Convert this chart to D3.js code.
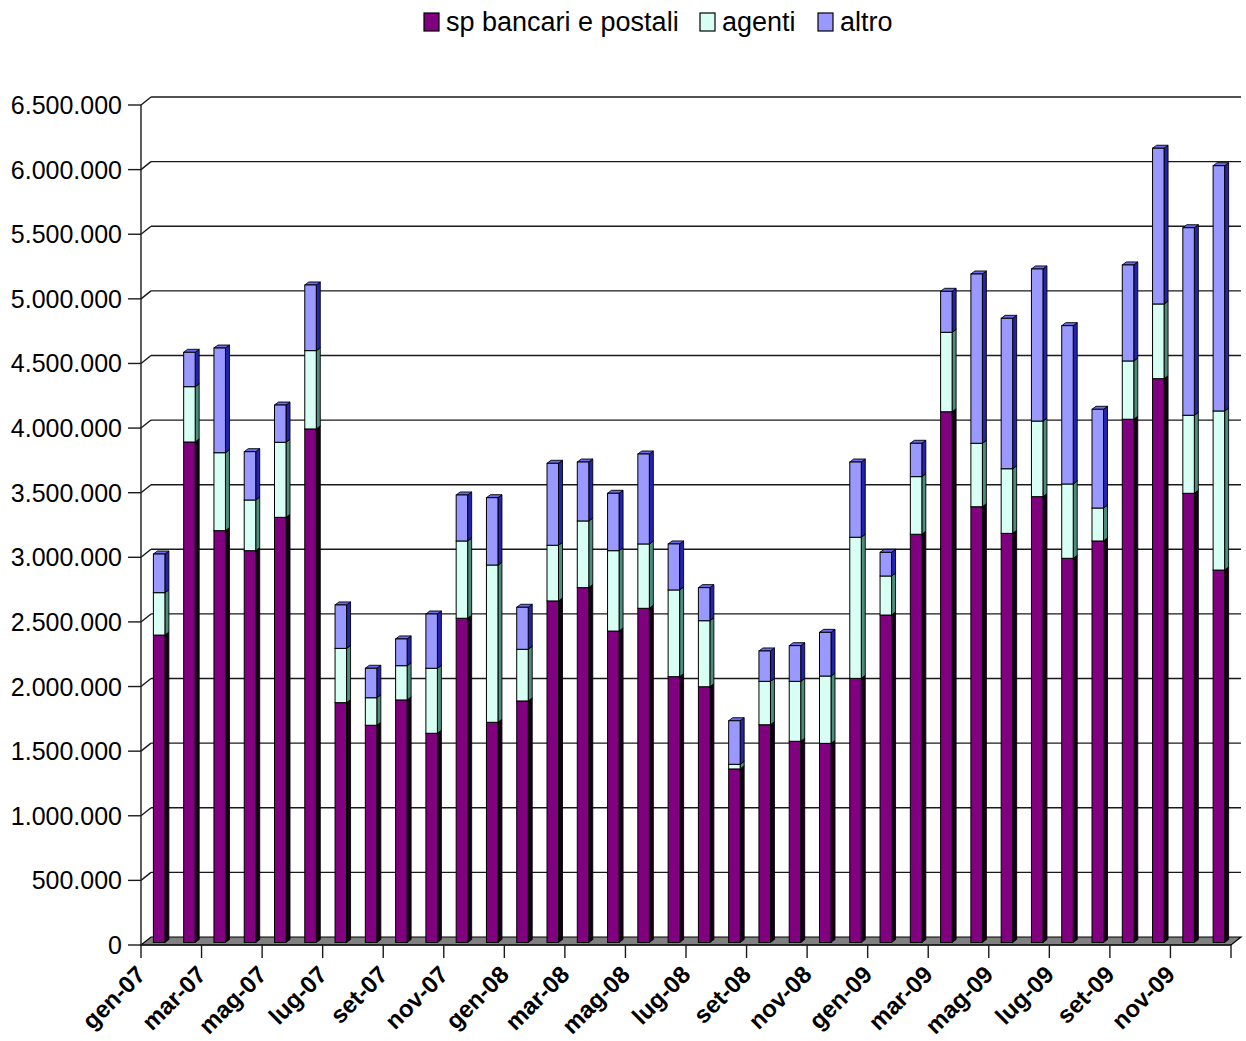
<!DOCTYPE html>
<html>
<head>
<meta charset="utf-8">
<script src="https://cdn.jsdelivr.net/npm/d3@7"></script>
<style>
  body { margin: 0; background: #fff; }
  svg { display: block; }
  text { font-family: "Liberation Sans", Arial, sans-serif; fill: #000; }
</style>
</head>
<body>
<svg id="chart" width="1246" height="1041"></svg>
<script>
// Monthly volumes by channel, Jan 2007 – Dec 2009
const months = [
  "gen-07","feb-07","mar-07","apr-07","mag-07","giu-07","lug-07","ago-07","set-07","ott-07","nov-07","dic-07",
  "gen-08","feb-08","mar-08","apr-08","mag-08","giu-08","lug-08","ago-08","set-08","ott-08","nov-08","dic-08",
  "gen-09","feb-09","mar-09","apr-09","mag-09","giu-09","lug-09","ago-09","set-09","ott-09","nov-09","dic-09"
];
const spBancariPostali = [
  2379000, 3873000, 3187000, 3032000, 3290000, 3974000, 1856000, 1681000, 1877000, 1619000, 2509000, 1704000,
  1869000, 2643000, 2746000, 2410000, 2586000, 2057000, 1979000, 1343000, 1685000, 1557000, 1541000, 2044000,
  2534000, 3159000, 4107000, 3372000, 3166000, 3450000, 2973000, 3107000, 4049000, 4363000, 3476000, 2882000
];
const agenti = [
  328000, 428000, 603000, 392000, 581000, 606000, 420000, 213000, 265000, 503000, 598000, 1217000,
  400000, 431000, 516000, 622000, 498000, 671000, 511000, 36000, 336000, 464000, 521000, 1092000,
  302000, 446000, 615000, 491000, 500000, 585000, 575000, 255000, 451000, 578000, 604000, 1231000
];
const altro = [
  299000, 266000, 810000, 374000, 288000, 508000, 336000, 228000, 207000, 420000, 356000, 521000,
  325000, 634000, 456000, 444000, 696000, 356000, 256000, 337000, 235000, 276000, 338000, 582000,
  183000, 258000, 317000, 1310000, 1164000, 1177000, 1225000, 764000, 743000, 1205000, 1451000, 1898000
];
const seriesNames = ["sp bancari e postali", "agenti", "altro"];
const yTicks = d3.range(0, 6500001, 500000);
const xTickLabels = months.filter((d, i) => i % 2 === 0);

// face colours per series: front, side, top
const palette = [
  { front: "#800080", side: "#140014", top: "#5a005a" },
  { front: "#d8fff3", side: "#4d8c7a", top: "#a8e8d8" },
  { front: "#9999ff", side: "#2323b0", top: "#6b6bf2" }
];

const svg = d3.select("#chart");

// plot frame (front plane) and depth of the 3D box
const plotLeft = 141, plotRight = 1231, plotBottom = 945, plotTop = 105;
const wallDx = 10, wallDy = -8;
const barOffX = 3, barOffY = -2.5;      // bar front face sits slightly into the box
const barDx = 4, barDy = -3;            // bar depth

const y = d3.scaleLinear().domain([0, 6500000]).range([plotBottom, plotTop]);
const x = d3.scaleBand().domain(months).range([plotLeft, plotRight]).padding(0);
const barW = 11.5;

const itLocale = d3.formatLocale({ decimal: ",", thousands: ".", grouping: [3], currency: ["€", ""] });
const fmt = itLocale.format(",");

// back wall gridlines with their diagonal joins and front tick marks
const grid = svg.append("g");
yTicks.forEach(v => {
  const yf = y(v);
  if (v > 0) {
    grid.append("line")
      .attr("x1", plotLeft + wallDx).attr("x2", plotRight + wallDx)
      .attr("y1", yf + wallDy).attr("y2", yf + wallDy)
      .attr("stroke", "#1a1a1a").attr("stroke-width", 1.4);
    grid.append("line")
      .attr("x1", plotLeft).attr("y1", yf)
      .attr("x2", plotLeft + wallDx).attr("y2", yf + wallDy)
      .attr("stroke", "#1a1a1a").attr("stroke-width", 1.4);
  }
  grid.append("line")
    .attr("x1", plotLeft - 13).attr("x2", plotLeft)
    .attr("y1", yf).attr("y2", yf)
    .attr("stroke", "#1a1a1a").attr("stroke-width", 1.4);
  grid.append("text")
    .attr("x", plotLeft - 19).attr("y", yf)
    .attr("text-anchor", "end").attr("dominant-baseline", "central")
    .style("font-size", "25px")
    .text(fmt(v));
});

// floor
svg.append("polygon")
  .attr("points", [
    [plotLeft, plotBottom], [plotRight, plotBottom],
    [plotRight + wallDx, plotBottom + wallDy], [plotLeft + wallDx, plotBottom + wallDy]
  ].map(p => p.join(",")).join(" "))
  .attr("fill", "#808080").attr("stroke", "#000").attr("stroke-width", 1.2);

// axis lines
svg.append("line").attr("x1", plotLeft).attr("x2", plotLeft).attr("y1", plotTop).attr("y2", plotBottom)
  .attr("stroke", "#1a1a1a").attr("stroke-width", 1.4);
svg.append("line").attr("x1", plotLeft).attr("x2", plotRight).attr("y1", plotBottom).attr("y2", plotBottom)
  .attr("stroke", "#1a1a1a").attr("stroke-width", 1.4);

// x ticks every two months plus the closing one
const tickXs = xTickLabels.map(m => x(m)).concat([plotRight]);
tickXs.forEach(tx => {
  svg.append("line").attr("x1", tx).attr("x2", tx).attr("y1", plotBottom).attr("y2", plotBottom + 13)
    .attr("stroke", "#1a1a1a").attr("stroke-width", 1.4);
});

// stacked 3D columns
const stackData = months.map((m, i) => ({ month: m, s0: spBancariPostali[i], s1: agenti[i], s2: altro[i] }));
const stacked = d3.stack().keys(["s0", "s1", "s2"])(stackData);

const bars = svg.append("g");
months.forEach((m, i) => {
  const x0 = x(m) + (x.bandwidth() - barW) / 2 + barOffX;
  const x1 = x0 + barW;
  const g = bars.append("g");
  stacked.forEach((layer, k) => {
    const [v0, v1] = layer[i];
    if (v1 - v0 <= 0) return;
    const yTop = y(v1) + barOffY, yBot = y(v0) + barOffY;
    const c = palette[k];
    // side face
    g.append("polygon")
      .attr("points", [[x1, yBot], [x1 + barDx, yBot + barDy], [x1 + barDx, yTop + barDy], [x1, yTop]]
        .map(p => p.join(",")).join(" "))
      .attr("fill", c.side).attr("stroke", "#000").attr("stroke-width", 0.9).attr("stroke-linejoin", "round");
    // top face
    g.append("polygon")
      .attr("points", [[x0, yTop], [x1, yTop], [x1 + barDx, yTop + barDy], [x0 + barDx, yTop + barDy]]
        .map(p => p.join(",")).join(" "))
      .attr("fill", c.top).attr("stroke", "#000").attr("stroke-width", 0.9).attr("stroke-linejoin", "round");
    // front face
    g.append("rect")
      .attr("x", x0).attr("y", yTop).attr("width", barW).attr("height", yBot - yTop)
      .attr("fill", c.front).attr("stroke", "#000").attr("stroke-width", 1);
  });
});

// month labels, rotated
xTickLabels.forEach(m => {
  const tx = x(m);
  svg.append("text")
    .attr("transform", `translate(${tx + 6},${plotBottom + 31}) rotate(-45)`)
    .attr("text-anchor", "end")
    .style("font-size", "24px").style("font-weight", "bold")
    .text(m);
});

// legend
const legendItems = [
  { name: seriesNames[0], x: 424, c: palette[0].front },
  { name: seriesNames[1], x: 700, c: palette[1].front },
  { name: seriesNames[2], x: 818, c: palette[2].front }
];
const legend = svg.append("g");
legendItems.forEach(it => {
  legend.append("rect").attr("x", it.x).attr("y", 13).attr("width", 15).attr("height", 18)
    .attr("fill", it.c).attr("stroke", "#000").attr("stroke-width", 1.2);
  legend.append("text").attr("x", it.x + 22).attr("y", 31)
    .style("font-size", "27px").text(it.name);
});
</script>
</body>
</html>
